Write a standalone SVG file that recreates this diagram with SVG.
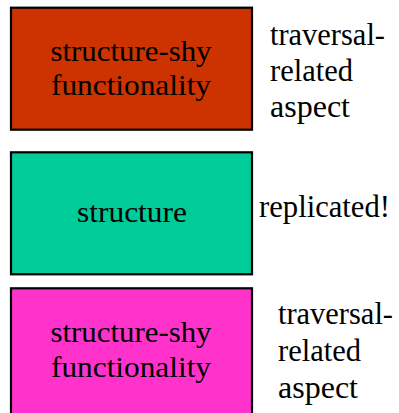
<svg xmlns="http://www.w3.org/2000/svg" width="399" height="413" viewBox="0 0 399 413">
  <style>
    .box { stroke: #000; stroke-width: 2.2; }
    text { font-family: "Liberation Serif", "Times New Roman", serif; fill: #000; }
    .in { font-size: 30px; text-anchor: middle; }
    .side { font-size: 31px; }
  </style>
  <rect width="399" height="413" fill="#fff"/>

  <g id="aspect-top">
    <rect class="box" x="11" y="7.7" width="241" height="122" fill="#CC3300"/>
    <text class="in" x="131" y="61" textLength="161" lengthAdjust="spacingAndGlyphs">structure-shy</text>
    <text class="in" x="131" y="95" textLength="160" lengthAdjust="spacingAndGlyphs">functionality</text>
  </g>
  <g id="label-top">
    <text class="side" x="270" y="45" textLength="115" lengthAdjust="spacingAndGlyphs">traversal-</text>
    <text class="side" x="270" y="81" textLength="83" lengthAdjust="spacingAndGlyphs">related</text>
    <text class="side" x="270" y="117" textLength="80" lengthAdjust="spacingAndGlyphs">aspect</text>
  </g>

  <g id="structure">
    <rect class="box" x="11" y="152.3" width="241" height="122" fill="#00CC99"/>
    <text class="in" x="132" y="222" textLength="110" lengthAdjust="spacingAndGlyphs">structure</text>
  </g>
  <g id="label-middle">
    <text class="side" x="259" y="217" textLength="131" lengthAdjust="spacingAndGlyphs">replicated!</text>
  </g>

  <g id="aspect-bottom">
    <rect class="box" x="11" y="288.3" width="241" height="135" fill="#FF33CC"/>
    <text class="in" x="131" y="342" textLength="161" lengthAdjust="spacingAndGlyphs">structure-shy</text>
    <text class="in" x="131" y="377" textLength="160" lengthAdjust="spacingAndGlyphs">functionality</text>
  </g>
  <g id="label-bottom">
    <text class="side" x="278" y="324" textLength="115" lengthAdjust="spacingAndGlyphs">traversal-</text>
    <text class="side" x="278" y="361" textLength="83" lengthAdjust="spacingAndGlyphs">related</text>
    <text class="side" x="278" y="398" textLength="80" lengthAdjust="spacingAndGlyphs">aspect</text>
  </g>

  <g id="connectors"/>
</svg>
